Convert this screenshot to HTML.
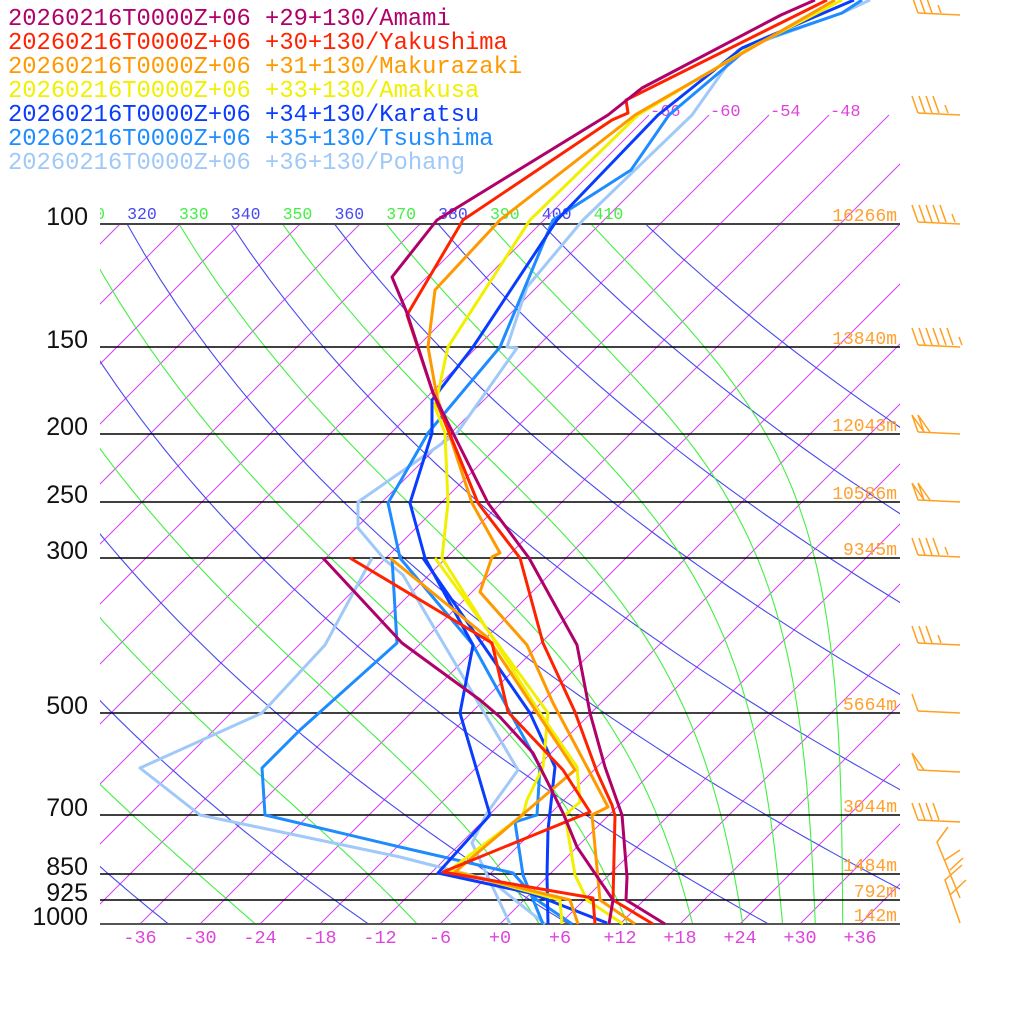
<!DOCTYPE html>
<html><head><meta charset="utf-8"><style>
html,body{margin:0;padding:0;background:#fff;}
svg{display:block;}
.m{font-family:"Liberation Mono",monospace;}
</style></head><body>
<svg id="s" width="1024" height="1024" viewBox="0 0 1024 1024" xmlns="http://www.w3.org/2000/svg">
<defs>
<clipPath id="c1"><rect x="100" y="224" width="800" height="700"/></clipPath>
<clipPath id="c2"><rect x="100" y="0" width="800" height="924"/></clipPath>
<clipPath id="c3"><rect x="100" y="190" width="800" height="40"/></clipPath>
</defs>
<g id="grid"></g>
<g stroke="#000" stroke-width="1.4">
<line x1="100" y1="224" x2="900" y2="224" stroke="#444" stroke-width="2"/>
<line x1="100" y1="347" x2="900" y2="347"/>
<line x1="100" y1="434" x2="900" y2="434"/>
<line x1="100" y1="502" x2="900" y2="502"/>
<line x1="100" y1="558" x2="900" y2="558"/>
<line x1="100" y1="713" x2="900" y2="713"/>
<line x1="100" y1="815" x2="900" y2="815"/>
<line x1="100" y1="874" x2="900" y2="874"/>
<line x1="100" y1="900" x2="900" y2="900"/>
<line x1="100" y1="924" x2="900" y2="924" stroke="#555" stroke-width="2"/>
</g>
<g font-family="Liberation Sans, sans-serif" font-size="25" fill="#111" text-anchor="end">
<text x="88" y="225">100</text><text x="88" y="348">150</text><text x="88" y="435">200</text>
<text x="88" y="503">250</text><text x="88" y="559">300</text><text x="88" y="714">500</text>
<text x="88" y="816">700</text><text x="88" y="875">850</text><text x="88" y="901">925</text>
<text x="88" y="925">1000</text>
</g>
<g class="m" font-size="18" fill="#ffa030" text-anchor="end">
<text x="897" y="221">16266m</text><text x="897" y="344">13840m</text><text x="897" y="431">12043m</text>
<text x="897" y="499">10586m</text><text x="897" y="555">9345m</text><text x="897" y="710">5664m</text>
<text x="897" y="812">3044m</text><text x="897" y="871">1484m</text><text x="897" y="897">792m</text>
<text x="897" y="921">142m</text>
</g>
<g class="m" font-size="18.5" fill="#dd44dd" text-anchor="middle">
<text x="140" y="943">-36</text><text x="200" y="943">-30</text><text x="260" y="943">-24</text>
<text x="320" y="943">-18</text><text x="380" y="943">-12</text><text x="440" y="943">-6</text>
<text x="500" y="943">+0</text><text x="560" y="943">+6</text><text x="620" y="943">+12</text>
<text x="680" y="943">+18</text><text x="740" y="943">+24</text><text x="800" y="943">+30</text>
<text x="860" y="943">+36</text>
</g>
<g class="m" font-size="17" fill="#dd44dd">
<text x="650" y="116">-66</text><text x="710" y="116">-60</text><text x="770" y="116">-54</text><text x="830" y="116">-48</text>
</g>
<g fill="none" stroke-width="3" stroke-linejoin="round">
<polyline stroke="#a0c8f8" points="870,0 842,13 738,50 692,115 583,220 527,287 507,347 517,348 457,433 358,502 358,528 385,560 403,575 518,770 487,813 472,843 510,924"/>
<polyline stroke="#a0c8f8" points="545,924 490,880 400,857 200,815 140,768 262,713 325,645 372,558"/>
<polyline stroke="#1e8cff" points="862,0 842,13 754,43 669,115 631,170 553,220 500,347 428,433 388,503 400,558 473,645 540,767 537,815 515,822 523,875 543,924"/>
<polyline stroke="#1e8cff" points="572,924 537,900 513,873 400,847 265,815 262,768 300,730 397,643 392,558"/>
<polyline stroke="#0a3cff" points="854,0 742,48 658,115 557,220 473,347 432,400 432,433 410,503 425,558 473,645 460,713 490,815 438,873 530,893 607,923"/>
<polyline stroke="#0a3cff" points="548,924 547,875 548,830 555,767 530,713 423,558"/>
<polyline stroke="#f0f000" points="842,0 746,50 638,115 530,220 448,347 435,407 445,433 448,503 442,558 540,713 577,767 580,802 565,815 575,875 587,900 623,924"/>
<polyline stroke="#f0f000" points="562,924 560,900 450,870 523,815 527,800 543,767 548,713 435,558"/>
<polyline stroke="#ff9900" points="835,0 635,115 500,220 435,290 428,347 437,397 472,503 500,553 492,557 480,592 527,645 553,703 587,767 608,807 592,815 600,900 635,924"/>
<polyline stroke="#ff9900" points="578,924 570,900 455,872 575,770 487,637 390,558"/>
<polyline stroke="#ff2200" points="827,0 626,100 628,113 612,120 463,220 407,315 433,393 478,503 520,558 543,643 575,712 597,772 612,805 615,816 613,900 653,924"/>
<polyline stroke="#ff2200" points="595,924 593,898 443,872 590,812 563,770 508,712 492,643 350,558"/>
<polyline stroke="#b0006a" points="815,0 781,15 642,88 608,115 437,220 392,277 407,313 433,393 453,433 488,503 529,558 577,645 590,713 605,767 622,815 627,877 626,900 665,924"/>
<polyline stroke="#b0006a" points="609,924 613,900 577,847 563,813 533,753 500,717 480,700 402,643 323,558"/>
</g>
<g id="barbs" fill="none" stroke="#ffa020" stroke-width="1.5"></g>
<g class="m" font-size="23.8">
<text x="8" y="25" fill="#b0006a">20260216T0000Z+06 +29+130/Amami</text>
<text x="8" y="49" fill="#ff2200">20260216T0000Z+06 +30+130/Yakushima</text>
<text x="8" y="73" fill="#ff9900">20260216T0000Z+06 +31+130/Makurazaki</text>
<text x="8" y="97" fill="#f0f000">20260216T0000Z+06 +33+130/Amakusa</text>
<text x="8" y="121" fill="#0a3cff">20260216T0000Z+06 +34+130/Karatsu</text>
<text x="8" y="145" fill="#1e8cff">20260216T0000Z+06 +35+130/Tsushima</text>
<text x="8" y="169" fill="#a0c8f8">20260216T0000Z+06 +36+130/Pohang</text>
</g>
</svg>
<script>
(function(){
var NS="http://www.w3.org/2000/svg";
var g=document.getElementById("grid");
function Y(p){return 224+304*Math.log(p/100);}
function X(T,y){return 500+10*T+(924-y);}
function el(n,a,parent){var e=document.createElementNS(NS,n);for(var k in a)e.setAttribute(k,a[k]);(parent||g).appendChild(e);return e;}
var gi=el("g",{"clip-path":"url(#c2)"});
for(var T=-150;T<=36;T+=6){
  var yt=T>=-66?115:224;
  el("line",{x1:X(T,924),y1:924,x2:X(T,yt),y2:yt,stroke:"#d444f0","stroke-width":"1"},gi);
}
var ga=el("g",{"clip-path":"url(#c1)"});
var ps=[];for(var p=100;p<=1000;p+=10)ps.push(p);
for(var th=200;th<=420;th+=20){
  var pts=[];
  for(var i=0;i<ps.length;i++){var pp=ps[i];var Tc=th*Math.pow(pp/1000,0.2854)-273.15;var y=Y(pp);pts.push(X(Tc,y).toFixed(1)+","+y.toFixed(1));}
  el("polyline",{points:pts.join(" "),fill:"none",stroke:"#4848f0","stroke-width":"1.1"},ga);
}
function es(Tc){return 6.112*Math.exp(17.67*Tc/(Tc+243.5));}
function the(Tc,p){var T=Tc+273.15;var e=es(Tc);if(p-e<1)return 1e9;var r=0.622*e/(p-e);return T*Math.pow(1000/p,0.2854)*Math.exp(2.5e6*r/(1004*T));}
for(var te=230;te<=410;te+=20){
  var pts=[];
  for(var i=0;i<ps.length;i++){var pp=ps[i];var lo=-150,hi=45;
    for(var k=0;k<60;k++){var m=(lo+hi)/2;if(the(m,pp)>te)hi=m;else lo=m;}
    var y=Y(pp);pts.push(X(lo,y).toFixed(1)+","+y.toFixed(1));}
  el("polyline",{points:pts.join(" "),fill:"none",stroke:"#44ee44","stroke-width":"1.1"},ga);
}
var gl=el("g",{"clip-path":"url(#c3)","font-family":"Liberation Mono, monospace","font-size":"16.5"});
for(var th=310;th<=410;th+=10){
  var Tc=th*Math.pow(0.1,0.2854)-273.15;var x=X(Tc,224);
  var t=el("text",{x:x.toFixed(1),y:219,fill:(th%20==0)?"#4848f0":"#44ee44"},gl);t.textContent=String(th);
}
var b=document.getElementById("barbs");
function barb(y,nf,half,pen){
  el("line",{x1:918,y1:y,x2:960,y2:y+2},b);
  var x=918;
  for(var i=0;i<pen;i++){el("polyline",{points:x+","+y+" "+(x-6)+","+(y-17)+" "+(x+6)+","+y},b);x+=6;}
  for(var i=0;i<nf;i++){el("line",{x1:x,y1:y,x2:x-6,y2:y-17},b);x+=7;}
  if(half){x+=2;el("line",{x1:x,y1:y,x2:x-3,y2:y-8},b);}
}
barb(13,3,1,0);barb(113,4,1,0);barb(222,5,1,0);barb(345,6,1,0);
barb(432,0,0,2);barb(500,0,0,2);barb(555,4,1,0);barb(643,3,1,0);
barb(711,1,0,0);barb(770,0,0,1);barb(820,4,0,0);
el("polyline",{points:"960,923 945,880 962,865"},b);
el("line",{x1:950,y1:895,x2:966,y2:880},b);
el("polyline",{points:"960,898 937,842 948,827"},b);
el("line",{x1:945,y1:860,x2:960,y2:850},b);
el("line",{x1:950,y1:870,x2:963,y2:858},b);
})();
</script>
</body></html>
